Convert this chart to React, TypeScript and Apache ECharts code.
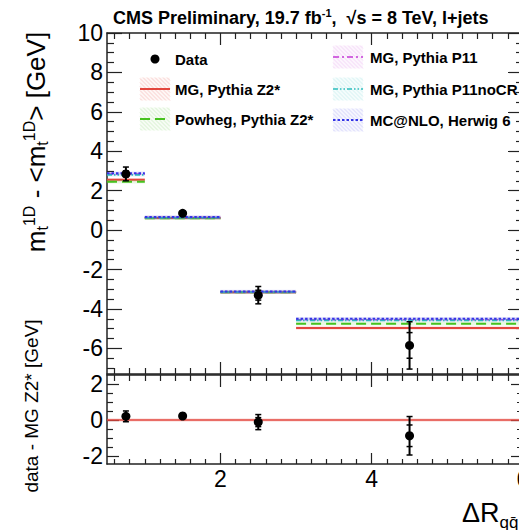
import React, { useEffect, useRef } from 'react';
import * as echarts from 'echarts';

// ---- data ----
const binLo = [0.5, 1, 2, 3];
const binHi = [1, 2, 3, 6];
const dataX = [0.75, 1.5, 2.5, 4.5];
const dataY = [2.85, 0.85, -3.3, -5.85];
const dataStat = [0.15, 0.05, 0.25, 0.65];
const dataTot = [0.35, 0.12, 0.44, 1.2];

const mgZ2 = [2.55, 0.62, -3.15, -4.97];
const powhegZ2 = [2.45, 0.6, -3.15, -4.75];
const mgP11 = [2.85, 0.64, -3.13, -4.55];
const mgP11noCR = [2.8, 0.63, -3.14, -4.58];
const mcatnlo = [2.88, 0.66, -3.12, -4.5];

const resY = [0.2, 0.22, -0.12, -0.88];
const resStat = [0.12, 0.05, 0.25, 0.6];
const resTot = [0.3, 0.1, 0.42, 1.07];

const modelNames = [
  'MG, Pythia Z2*',
  'Powheg, Pythia Z2*',
  'MG, Pythia P11',
  'MG, Pythia P11noCR',
  'MC@NLO, Herwig 6',
];
const modelValues = [mgZ2, powhegZ2, mgP11, mgP11noCR, mcatnlo];

const xMajor = [2, 4, 6];
const xLabels = [2, 4, 6];
const yMajorTop = [-6, -4, -2, 0, 2, 4, 6, 8, 10];
const yMajorBot = [-2, 0, 2];

const titleText = 'CMS Preliminary, 19.7 fb';
const titleText2 = ',  √s = 8 TeV, l+jets';

// ---- styling ----
const FONT = '"Liberation Sans", Arial, Helvetica, sans-serif';
const modelStyles = [
  { color: '#e3463e', band: 'rgba(227,70,62,0.16)', hatch: 'rgba(227,70,62,0.22)', dash: null as any, width: 2 },
  { color: '#47c21f', band: 'rgba(71,194,31,0.12)', hatch: 'rgba(71,194,31,0.18)', dash: [10, 5], width: 2 },
  { color: '#c43ad6', band: 'rgba(196,58,214,0.10)', hatch: 'rgba(196,58,214,0.16)', dash: [6, 3, 2, 3], width: 1.6 },
  { color: '#2dbdbd', band: 'rgba(45,189,189,0.10)', hatch: 'rgba(45,189,189,0.16)', dash: [5, 2, 1.5, 2, 1.5, 2], width: 1.6 },
  { color: '#3434e6', band: 'rgba(52,52,230,0.12)', hatch: 'rgba(52,52,230,0.16)', dash: [2.5, 2], width: 2 },
];
const legendPos = [
  { x: 140, tx: 175, y: 89 },
  { x: 140, tx: 175, y: 119 },
  { x: 333, tx: 370, y: 57 },
  { x: 333, tx: 370, y: 89 },
  { x: 333, tx: 370, y: 120 },
];

function range(a: number, b: number, step: number) {
  const out: number[] = [];
  for (let i = 0; a + i * step <= b + 1e-9; i++) out.push(Math.round((a + i * step) * 1000) / 1000);
  return out;
}
const xMinor = range(0.6, 5.8, 0.2).filter((v) => !xMajor.includes(v));
const yMinorTop = range(-7, 9.5, 0.5).filter((v) => !yMajorTop.includes(v));
const yMinorBot = range(-2, 2, 0.5).filter((v) => !yMajorBot.includes(v));

const AX = '#222';

function xAxis(gridIndex: number, position: string, ticks: number[], len: number, line: boolean, labels?: number[]) {
  return {
    type: 'value', gridIndex, position, min: 0.5, max: 6,
    axisLine: { show: line, onZero: false, lineStyle: { color: AX, width: 1.5 } },
    axisTick: { show: true, inside: true, length: len, customValues: ticks, lineStyle: { color: AX, width: 1.2 } },
    axisLabel: labels
      ? { show: true, customValues: labels, fontSize: 23, color: '#000', fontFamily: FONT, margin: 3 }
      : { show: false },
    splitLine: { show: false },
    axisPointer: { show: false },
  };
}
function yAxis(gridIndex: number, position: string, min: number, max: number, ticks: number[], len: number, line: boolean, labels?: number[]) {
  return {
    type: 'value', gridIndex, position, min, max,
    axisLine: { show: line, onZero: false, lineStyle: { color: AX, width: 1.5 } },
    axisTick: { show: true, inside: true, length: len, customValues: ticks, lineStyle: { color: AX, width: 1.2 } },
    axisLabel: labels
      ? { show: true, customValues: labels, fontSize: 23, color: '#000', fontFamily: FONT, margin: 4 }
      : { show: false },
    splitLine: { show: false },
    axisPointer: { show: false },
  };
}

function bandRender(style: any, half: number) {
  return (params: any, api: any) => {
    const lo = api.value(0), hi = api.value(1), y = api.value(2);
    const a = api.coord([lo, y]);
    const b = api.coord([hi, y]);
    const top = api.coord([lo, y + half])[1];
    const bot = api.coord([lo, y - half])[1];
    return {
      type: 'group',
      children: [
        { type: 'rect', shape: { x: a[0], y: top, width: b[0] - a[0], height: bot - top }, style: { fill: style.band } },
        {
          type: 'line',
          shape: { x1: a[0], y1: a[1], x2: b[0], y2: b[1] },
          style: { stroke: style.color, lineWidth: style.width, lineDash: style.dash || undefined },
        },
      ],
    };
  };
}

function errRender(params: any, api: any) {
  const x = api.value(0), y = api.value(1), st = api.value(2), tot = api.value(3);
  const c = api.coord([x, y]);
  const yTop = api.coord([x, y + tot])[1];
  const yBot = api.coord([x, y - tot])[1];
  const sTop = api.coord([x, y + st])[1];
  const sBot = api.coord([x, y - st])[1];
  const cap = (yy: number) => ({
    type: 'line', shape: { x1: c[0] - 3, y1: yy, x2: c[0] + 3, y2: yy }, style: { stroke: '#000', lineWidth: 1.5 },
  });
  return {
    type: 'group',
    children: [
      { type: 'line', shape: { x1: c[0], y1: yTop, x2: c[0], y2: yBot }, style: { stroke: '#000', lineWidth: 2 } },
      cap(yTop), cap(yBot), cap(sTop), cap(sBot),
      { type: 'circle', shape: { cx: c[0], cy: c[1], r: 4.5 }, style: { fill: '#000' } },
    ],
  };
}

// diagonal hatch lines inside a legend box
function hatch(x0: number, y0: number, w: number, h: number, color: string) {
  const out: any[] = [];
  for (let k = 2; k < w + h; k += 4) {
    const dxa = Math.max(0, k - h);
    const dxb = Math.min(w, k);
    out.push({
      type: 'line',
      shape: { x1: x0 + dxa, y1: y0 + h - (k - dxa), x2: x0 + dxb, y2: y0 + h - (k - dxb) },
      style: { stroke: color, lineWidth: 1 },
      silent: true,
    });
  }
  return out;
}

export default function App() {
  const ref = useRef<HTMLDivElement>(null);
  useEffect(() => {
    if (!ref.current) return;
    const chart = echarts.init(ref.current, null, { renderer: 'svg' });

    const modelSeries = modelValues.map((vals, i) => ({
      type: 'custom',
      name: modelNames[i],
      xAxisIndex: 0,
      yAxisIndex: 0,
      encode: { x: [0, 1], y: 2 },
      data: vals.map((v, k) => [binLo[k], binHi[k], v]),
      renderItem: bandRender(modelStyles[i], 0.09),
      z: 2 + i,
      silent: true,
    }));

    const legendGraphics: any[] = [];
    legendGraphics.push({
      type: 'circle', shape: { cx: 155, cy: 59, r: 4.5 }, style: { fill: '#000' },
    });
    legendGraphics.push({
      type: 'text', x: 175, y: 59,
      style: { text: 'Data', fontSize: 15, fontWeight: 'bold', fontFamily: FONT, fill: '#000', align: 'left', verticalAlign: 'middle', textAlign: 'left', textVerticalAlign: 'middle' },
    });
    modelNames.forEach((name, i) => {
      const p = legendPos[i];
      const s = modelStyles[i];
      legendGraphics.push({ type: 'rect', shape: { x: p.x, y: p.y - 11.5, width: 30, height: 23 }, style: { fill: s.band.replace(/0\.\d+\)$/, '0.05)') } });
      legendGraphics.push(...hatch(p.x, p.y - 11.5, 30, 23, s.hatch));
      legendGraphics.push({
        type: 'line', shape: { x1: p.x, y1: p.y, x2: p.x + 30, y2: p.y },
        style: { stroke: s.color, lineWidth: s.width, lineDash: s.dash || undefined },
      });
      legendGraphics.push({
        type: 'text', x: p.tx, y: p.y,
        style: { text: name, fontSize: 15, fontWeight: 'bold', fontFamily: FONT, fill: '#000', align: 'left', verticalAlign: 'middle', textAlign: 'left', textVerticalAlign: 'middle' },
      });
    });

    const option: any = {
      animation: false,
      backgroundColor: '#fff',
      grid: [
        { left: 107, top: 33, width: 416, height: 341, outerBoundsMode: 'none', containLabel: false },
        { left: 107, top: 375, width: 416, height: 89, outerBoundsMode: 'none', containLabel: false },
      ],
      xAxis: [
        xAxis(0, 'bottom', xMajor, 12, true),
        xAxis(0, 'bottom', xMinor, 6, false),
        xAxis(0, 'top', xMajor, 12, true),
        xAxis(0, 'top', xMinor, 6, false),
        xAxis(1, 'bottom', xMajor, 11, true, xLabels),
        xAxis(1, 'bottom', xMinor, 5, false),
        xAxis(1, 'top', xMajor, 12, true),
        xAxis(1, 'top', xMinor, 6, false),
      ],
      yAxis: [
        yAxis(0, 'left', -7.3, 10, yMajorTop, 15, true, yMajorTop),
        yAxis(0, 'left', -7.3, 10, yMinorTop, 7, false),
        yAxis(0, 'right', -7.3, 10, yMajorTop, 15, true),
        yAxis(0, 'right', -7.3, 10, yMinorTop, 7, false),
        yAxis(1, 'left', -2.45, 2.5, yMajorBot, 12, true, yMajorBot),
        yAxis(1, 'left', -2.45, 2.5, yMinorBot, 6, false),
        yAxis(1, 'right', -2.45, 2.5, yMajorBot, 12, true),
        yAxis(1, 'right', -2.45, 2.5, yMinorBot, 6, false),
      ],
      series: [
        ...modelSeries,
        {
          type: 'custom', name: 'Data', xAxisIndex: 0, yAxisIndex: 0,
          encode: { x: 0, y: 1 },
          data: dataX.map((x, k) => [x, dataY[k], dataStat[k], dataTot[k]]),
          renderItem: errRender, z: 10, silent: true,
        },
        {
          type: 'custom', name: 'ref', xAxisIndex: 4, yAxisIndex: 4,
          encode: { x: [0, 1], y: 2 },
          data: [[0.5, 6, 0]],
          renderItem: bandRender({ ...modelStyles[0], width: 1.6 }, 0.1),
          z: 2, silent: true,
        },
        {
          type: 'custom', name: 'residual', xAxisIndex: 4, yAxisIndex: 4,
          encode: { x: 0, y: 1 },
          data: dataX.map((x, k) => [x, resY[k], resStat[k], resTot[k]]),
          renderItem: errRender, z: 10, silent: true,
        },
      ],
      graphic: [
        {
          type: 'text', x: 113, y: 18,
          style: {
            text: `{b|${titleText}}{s|-1}{b|${titleText2}}`,
            rich: {
              b: { fontSize: 18, fontWeight: 'bold', fontFamily: FONT, fill: '#000', color: '#000' },
              s: { fontSize: 11, fontWeight: 'bold', fontFamily: FONT, fill: '#000', color: '#000', padding: [0, 0, 10, 0] },
            },
            align: 'left', verticalAlign: 'middle', textAlign: 'left', textVerticalAlign: 'middle',
          },
        },
        {
          type: 'text', x: 36, y: 142, rotation: Math.PI / 2,
          style: {
            text: '{m|m}{sb|t}{sp|1D}{m| - <m}{sb|t}{sp|1D}{m|> [GeV]}',
            rich: {
              m: { fontSize: 26, fontFamily: FONT, fill: '#000', color: '#000' },
              sb: { fontSize: 16, fontFamily: FONT, fill: '#000', color: '#000', padding: [12, 0, 0, 0] },
              sp: { fontSize: 16, fontFamily: FONT, fill: '#000', color: '#000', padding: [0, 0, 14, 0] },
            },
            align: 'center', verticalAlign: 'middle', textAlign: 'center', textVerticalAlign: 'middle',
          },
        },
        {
          type: 'text', x: 31, y: 406, rotation: Math.PI / 2,
          style: {
            text: 'data - MG Z2* [GeV]', fontSize: 19, fontFamily: FONT, fill: '#000',
            align: 'center', verticalAlign: 'middle', textAlign: 'center', textVerticalAlign: 'middle',
          },
        },
        {
          type: 'text', x: 462, y: 513,
          style: {
            text: '{a|ΔR}{s|qq\u0304}',
            rich: {
              a: { fontSize: 27, fontFamily: FONT, fill: '#000', color: '#000' },
              s: { fontSize: 17, fontFamily: FONT, fill: '#000', color: '#000', padding: [18, 0, 0, 0] },
            },
            align: 'left', verticalAlign: 'middle', textAlign: 'left', textVerticalAlign: 'middle',
          },
        },
        ...legendGraphics,
      ],
    };
    chart.setOption(option);
    return () => chart.dispose();
  }, []);
  return <div ref={ref} style={{ position: 'absolute', left: 0, top: 0, width: 519, height: 530 }} />;
}
